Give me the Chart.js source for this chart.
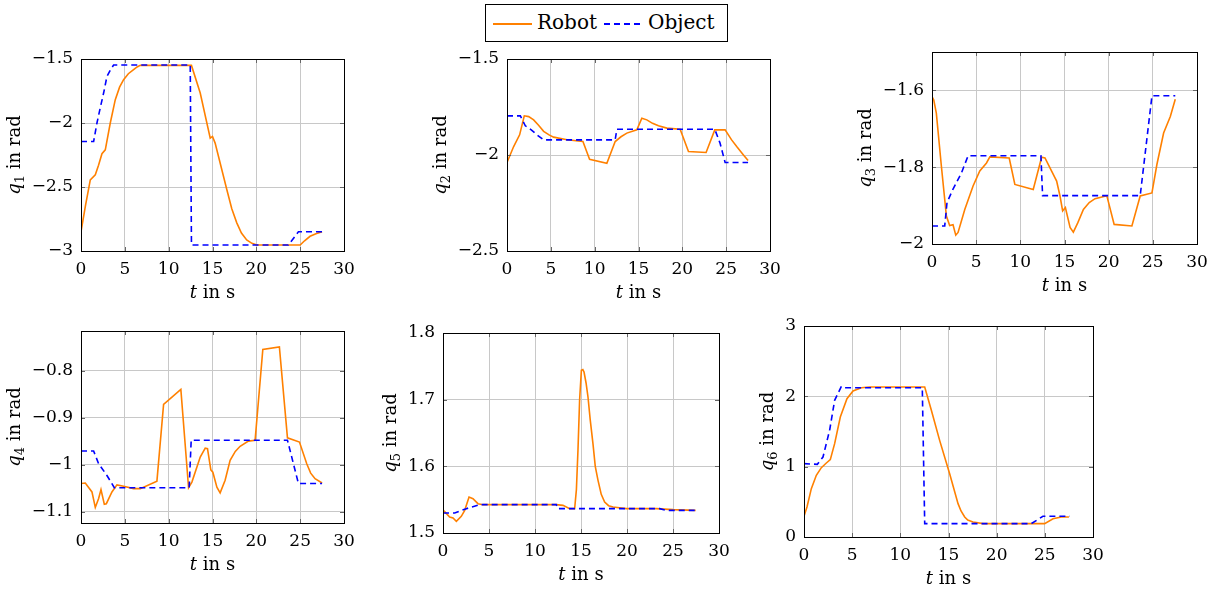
<!DOCTYPE html>
<html>
<head>
<meta charset="utf-8">
<script src="https://cdn.jsdelivr.net/npm/chart.js@4.4.1/dist/chart.umd.min.js"></script>
<style>
  body { margin: 0; background: #fff; width: 1217px; height: 597px; position: relative; overflow: hidden; }
  canvas { position: absolute; }
  #legend {
    position: absolute; left: 485px; top: 4px; width: 243px; height: 38px;
    box-sizing: border-box; border: 1px solid #000;
    font-family: "DejaVu Serif", serif; font-size: 20px; color: #000;
  }
  #legend span { position: absolute; }
  .sample { height: 2px; top: 18px; }
</style>
</head>
<body>
<div id="legend">
  <span class="sample" style="left:7px;width:39px;background:#ff8000"></span>
  <span style="left:51px;top:5px">Robot</span>
  <span class="sample" style="left:118px;width:38px;background:repeating-linear-gradient(to right,#0000ff 0 6px,transparent 6px 10px)"></span>
  <span style="left:162px;top:5px">Object</span>
</div>
<canvas id="c1"></canvas>
<canvas id="c2"></canvas>
<canvas id="c3"></canvas>
<canvas id="c4"></canvas>
<canvas id="c5"></canvas>
<canvas id="c6"></canvas>
<script>
// values, [t in s, q in rad]
const xTicks = [0, 5, 10, 15, 20, 25, 30];

const q1Robot = [[0,-2.85],[0.5,-2.65],[1.06,-2.444],[1.63,-2.405],[2.0,-2.33],[2.39,-2.24],[2.77,-2.21],[3.34,-2.0],[3.91,-1.818],[4.4,-1.72],[4.86,-1.662],[5.4,-1.615],[6.0,-1.583],[6.4,-1.562],[6.76,-1.55],[12.6,-1.55],[13.6,-1.766],[14.74,-2.118],[15.0,-2.105],[15.3,-2.157],[16.63,-2.52],[17.2,-2.67],[17.77,-2.78],[18.3,-2.86],[18.9,-2.914],[19.5,-2.94],[20.05,-2.953],[25.0,-2.953],[25.5,-2.92],[26.13,-2.885],[26.8,-2.865],[27.5,-2.85]];
const q1Object = [[0,-2.145],[1.44,-2.145],[1.82,-2.0],[2.2,-1.88],[2.58,-1.766],[2.96,-1.636],[3.4,-1.58],[3.72,-1.547],[12.46,-1.547],[12.6,-2.953],[23.66,-2.953],[24.8,-2.85],[27.5,-2.85]];
const q1Ticks = [-3, -2.5, -2, -1.5];

const q2Robot = [[0,-2.039],[0.76,-1.956],[1.44,-1.895],[1.97,-1.796],[2.47,-1.8],[3.04,-1.817],[3.6,-1.845],[4.18,-1.877],[4.8,-1.895],[5.32,-1.907],[6.84,-1.921],[8.66,-1.93],[9.42,-2.022],[11.39,-2.043],[12.34,-1.93],[13.0,-1.905],[13.67,-1.886],[14.81,-1.869],[15.38,-1.808],[15.95,-1.817],[16.6,-1.835],[17.28,-1.848],[18.23,-1.86],[19.75,-1.866],[20.7,-1.982],[22.71,-1.987],[23.7,-1.869],[24.88,-1.869],[25.6,-1.92],[26.2,-1.956],[26.97,-2.0],[27.5,-2.029]];
const q2Object = [[0,-1.796],[1.52,-1.796],[2.09,-1.848],[2.8,-1.87],[3.42,-1.895],[4.18,-1.921],[12.34,-1.921],[12.53,-1.866],[23.7,-1.866],[24.3,-1.938],[24.88,-2.039],[27.5,-2.039]];
const q2Ticks = [-2.5, -2, -1.5];

const q3Robot = [[0,-1.616],[0.2,-1.625],[0.49,-1.659],[1.06,-1.797],[1.63,-1.927],[2.0,-1.952],[2.38,-1.95],[2.69,-1.977],[2.95,-1.97],[3.71,-1.91],[4.65,-1.849],[5.41,-1.81],[6.17,-1.789],[6.55,-1.773],[8.74,-1.776],[9.38,-1.845],[11.46,-1.858],[12.41,-1.774],[12.79,-1.776],[14.11,-1.836],[14.49,-1.875],[14.79,-1.914],[15.1,-1.905],[15.63,-1.957],[16.0,-1.969],[16.5,-1.945],[17.14,-1.91],[17.8,-1.892],[18.46,-1.882],[19.79,-1.874],[20.62,-1.949],[22.63,-1.953],[23.57,-1.875],[24.9,-1.867],[25.46,-1.793],[26.22,-1.711],[26.98,-1.668],[27.54,-1.623]];
const q3Object = [[0,-1.953],[1.44,-1.953],[1.7,-1.892],[2.38,-1.857],[3.33,-1.815],[4.09,-1.77],[12.33,-1.77],[12.52,-1.874],[23.57,-1.874],[24.9,-1.614],[27.54,-1.614]];
const q3Ticks = [-2, -1.8, -1.6];

const q4Robot = [[0,-1.04],[0.49,-1.039],[1.25,-1.058],[1.63,-1.091],[2.01,-1.072],[2.28,-1.053],[2.66,-1.084],[2.89,-1.083],[3.53,-1.058],[4.1,-1.043],[4.86,-1.046],[6.0,-1.051],[6.76,-1.051],[8.66,-1.035],[9.42,-0.872],[11.39,-0.84],[12.27,-1.049],[12.65,-1.037],[13.6,-0.984],[14.17,-0.965],[14.43,-0.966],[14.81,-1.011],[15.04,-1.016],[15.5,-1.048],[15.87,-1.06],[16.44,-1.033],[17.01,-0.991],[17.6,-0.972],[18.15,-0.961],[19.1,-0.95],[19.86,-0.948],[20.74,-0.755],[22.63,-0.75],[23.55,-0.943],[24.92,-0.952],[25.75,-0.998],[26.2,-1.018],[26.7,-1.03],[27.5,-1.039]];
const q4Object = [[0,-0.971],[1.44,-0.971],[2.01,-0.998],[2.96,-1.023],[3.8,-1.049],[12.34,-1.049],[12.57,-0.948],[23.55,-0.948],[24.8,-1.04],[27.5,-1.04]];
const q4Ticks = [-1.1, -1, -0.9, -0.8];

const q5Robot = [[0,1.535],[0.18,1.532],[0.72,1.524],[1.09,1.5225],[1.45,1.5175],[1.99,1.525],[2.36,1.534],[2.83,1.554],[3.26,1.5515],[3.8,1.544],[4.35,1.5425],[12.32,1.5425],[13.04,1.5415],[13.77,1.5365],[14.31,1.5365],[14.5,1.565],[14.67,1.624],[14.85,1.70],[15.04,1.744],[15.2,1.745],[15.33,1.7415],[15.55,1.725],[15.76,1.704],[16.0,1.67],[16.3,1.634],[16.55,1.60],[16.85,1.579],[17.2,1.558],[17.57,1.5465],[18.0,1.541],[18.48,1.539],[19.93,1.5365],[23.19,1.5365],[25.0,1.535],[27.46,1.534]];
const q5Object = [[0,1.53],[1.27,1.53],[2.54,1.5365],[3.99,1.5425],[12.32,1.5425],[12.5,1.5365],[23.55,1.5365],[24.3,1.534],[27.46,1.534]];
const q5Ticks = [1.5, 1.6, 1.7, 1.8];

const q6Robot = [[0,0.294],[0.31,0.427],[0.76,0.687],[1.28,0.877],[1.8,0.986],[2.32,1.052],[2.73,1.1],[3.18,1.327],[3.77,1.706],[4.46,1.967],[5.09,2.076],[5.95,2.123],[6.82,2.133],[12.53,2.133],[13.22,1.801],[14.08,1.374],[15.12,0.9],[15.99,0.474],[16.3,0.37],[16.68,0.284],[17.0,0.24],[17.54,0.213],[18.58,0.19],[24.98,0.19],[25.85,0.26],[26.71,0.284],[27.5,0.284]];
const q6Object = [[0,1.043],[1.38,1.033],[1.97,1.137],[2.66,1.517],[3.18,1.943],[3.88,2.142],[4.22,2.123],[12.28,2.123],[12.53,0.19],[23.6,0.19],[24.8,0.294],[27.58,0.294]];
const q6Ticks = [0, 1, 2, 3];

Chart.defaults.font.family = 'DejaVu Serif';
Chart.defaults.font.size = 17;
Chart.defaults.color = '#000';

const FONT = 'DejaVu Serif';
const PAD_L = 80, PAD_T = 20, PAD_R = 20, PAD_B = 60;

function fmt(v) {
  return String(Math.round(v * 100) / 100).replace('-', '\u2212');
}

// black frame, inner tick marks and the axis labels ($t$ in s, $q_i$ in rad)
const framePlugin = {
  id: 'frame',
  afterDatasetsDraw(chart, args, opts) {
    const ctx = chart.ctx, a = chart.chartArea;
    const sx = chart.scales.x, sy = chart.scales.y;
    ctx.save();
    ctx.strokeStyle = '#666';
    ctx.lineWidth = 1;
    ctx.beginPath();
    sx.ticks.forEach(t => {
      const x = Math.round(sx.getPixelForValue(t.value)) + 0.5;
      ctx.moveTo(x, a.bottom); ctx.lineTo(x, a.bottom - 4);
      ctx.moveTo(x, a.top); ctx.lineTo(x, a.top + 4);
    });
    sy.ticks.forEach(t => {
      const y = Math.round(sy.getPixelForValue(t.value)) + 0.5;
      ctx.moveTo(a.left, y); ctx.lineTo(a.left + 4, y);
      ctx.moveTo(a.right, y); ctx.lineTo(a.right - 4, y);
    });
    ctx.stroke();
    ctx.strokeStyle = '#000';
    ctx.strokeRect(Math.round(a.left) + 0.5, Math.round(a.top) + 0.5,
                   Math.round(a.right - a.left), Math.round(a.bottom - a.top));

    // x label
    ctx.fillStyle = '#000';
    ctx.textBaseline = 'middle';
    ctx.font = 'italic 18px ' + FONT;
    const wt = ctx.measureText('t').width;
    ctx.font = '18px ' + FONT;
    const wr = ctx.measureText(' in s').width;
    let x0 = (a.left + a.right) / 2 - (wt + wr) / 2;
    const yl = a.bottom + 42;
    ctx.font = 'italic 18px ' + FONT;
    ctx.fillText('t', x0, yl);
    ctx.font = '18px ' + FONT;
    ctx.fillText(' in s', x0 + wt, yl);

    // y label, placed left of the widest tick label
    ctx.font = '17px ' + FONT;
    let maxW = 0;
    sy.ticks.forEach(t => { maxW = Math.max(maxW, ctx.measureText(t.label).width); });
    const tx = a.left - 8 - maxW - 18;
    const cy = (a.top + a.bottom) / 2;
    ctx.font = 'italic 18px ' + FONT;
    const wq = ctx.measureText('q').width;
    ctx.font = '13px ' + FONT;
    const ws = ctx.measureText(opts.sub).width;
    ctx.font = '18px ' + FONT;
    const wn = ctx.measureText(' in rad').width;
    const tot = wq + ws + wn;
    ctx.translate(tx, cy);
    ctx.rotate(-Math.PI / 2);
    ctx.textBaseline = 'alphabetic';
    let px = -tot / 2;
    ctx.font = 'italic 18px ' + FONT;
    ctx.fillText('q', px, 6);
    ctx.font = '13px ' + FONT;
    ctx.fillText(opts.sub, px + wq, 10);
    ctx.font = '18px ' + FONT;
    ctx.fillText(' in rad', px + wq + ws, 6);
    ctx.restore();
  }
};

function toXY(arr) {
  return arr.map(p => ({ x: p[0], y: p[1] }));
}

function makePlot(id, box, sub, robot, object, yMin, yMax, yTicks) {
  const cv = document.getElementById(id);
  cv.width = box.w + PAD_L + PAD_R;
  cv.height = box.h + PAD_T + PAD_B;
  cv.style.left = (box.l - PAD_L) + 'px';
  cv.style.top = (box.t - PAD_T) + 'px';
  return new Chart(cv.getContext('2d'), {
    type: 'line',
    data: {
      datasets: [{
        label: 'Robot',
        data: toXY(robot),
        borderColor: '#ff8000',
        borderWidth: 1.6,
        pointRadius: 0,
        tension: 0,
        order: 1
      }, {
        label: 'Object',
        data: toXY(object),
        borderColor: '#0000ff',
        borderWidth: 1.6,
        borderDash: [6, 4],
        pointRadius: 0,
        tension: 0,
        order: 0
      }]
    },
    options: {
      responsive: false,
      animation: false,
      devicePixelRatio: 1,
      layout: { padding: { left: 0, top: PAD_T, right: PAD_R, bottom: 0 } },
      plugins: {
        legend: { display: false },
        tooltip: { enabled: false },
        frame: { sub: sub }
      },
      scales: {
        x: {
          type: 'linear',
          min: 0,
          max: 30,
          afterBuildTicks: s => { s.ticks = xTicks.map(v => ({ value: v })); },
          afterFit: s => { s.height = PAD_B; },
          ticks: { padding: 8, maxRotation: 0, autoSkip: false, callback: v => fmt(v) },
          grid: { color: '#c8c8c8', lineWidth: 1, drawTicks: false },
          border: { display: false }
        },
        y: {
          type: 'linear',
          min: yMin,
          max: yMax,
          afterBuildTicks: s => { s.ticks = yTicks.map(v => ({ value: v })); },
          afterFit: s => { s.width = PAD_L; },
          ticks: { padding: 8, autoSkip: false, callback: v => fmt(v) },
          grid: { color: '#c8c8c8', lineWidth: 1, drawTicks: false },
          border: { display: false }
        }
      }
    },
    plugins: [framePlugin]
  });
}

makePlot('c1', { l: 81, t: 59, w: 263, h: 192 }, '1', q1Robot, q1Object, -3, -1.5, q1Ticks);
makePlot('c2', { l: 507, t: 59, w: 263, h: 192 }, '2', q2Robot, q2Object, -2.5, -1.5, q2Ticks);
makePlot('c3', { l: 932, t: 52, w: 265, h: 192 }, '3', q3Robot, q3Object, -2, -1.5, q3Ticks);
makePlot('c4', { l: 81, t: 331, w: 263, h: 192 }, '4', q4Robot, q4Object, -1.124, -0.716, q4Ticks);
makePlot('c5', { l: 443, t: 333, w: 276, h: 200 }, '5', q5Robot, q5Object, 1.5, 1.8, q5Ticks);
makePlot('c6', { l: 804, t: 326, w: 289, h: 211 }, '6', q6Robot, q6Object, 0, 3, q6Ticks);
</script>
</body>
</html>
